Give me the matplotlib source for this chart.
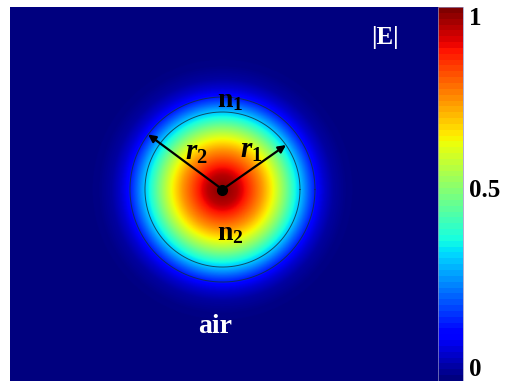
import numpy as np
import matplotlib
matplotlib.use("Agg")
import matplotlib.pyplot as plt
from matplotlib.cm import ScalarMappable
from matplotlib.colors import Normalize
from matplotlib.transforms import ScaledTranslation

plt.rcParams["font.family"] = ["Liberation Serif", "DejaVu Serif"]
plt.rcParams["mathtext.fontset"] = "custom"
plt.rcParams["mathtext.rm"] = "Liberation Serif:bold"
plt.rcParams["mathtext.it"] = "Liberation Serif:italic:bold"
plt.rcParams["mathtext.bf"] = "Liberation Serif:bold"

# Geometry (lengths normalised to the outer radius r2)
r1 = 0.838
r2 = 1.0
x_range = (-2.297, 2.330)
y_range = (-2.070, 1.973)

# Radial |E| profile of the guided mode (normalised field amplitude)
profile_r = [0.0, 0.16, 0.27, 0.43, 0.56, 0.68, 0.80, 0.84, 0.93, 1.0,
             1.05, 1.10, 1.20, 1.35, 1.60, 4.0]
profile_E = [1.0, 0.95, 0.87, 0.75, 0.63, 0.50, 0.36, 0.32, 0.22, 0.15,
             0.10, 0.07, 0.03, 0.005, 0.0, 0.0]

cbar_ticks = [0, 0.5, 1]
cbar_labels = ["0", "0.5", "1"]

# Field map on a regular grid
nx, ny = 700, 612
xs = np.linspace(x_range[0], x_range[1], nx)
ys = np.linspace(y_range[0], y_range[1], ny)
X, Y = np.meshgrid(xs, ys)
R = np.hypot(X, Y)
E = np.interp(R, profile_r, profile_E)

W, H = 505, 381
fig = plt.figure(figsize=(W / 100, H / 100), dpi=100)
ax = fig.add_axes([10 / W, 0, 428 / W, 374 / H])
cax = fig.add_axes([438 / W, 0, 25 / W, 374 / H])

cmap = plt.get_cmap("jet")
im = ax.imshow(E, cmap=cmap, vmin=0, vmax=1, origin="lower",
               extent=[x_range[0], x_range[1], y_range[0], y_range[1]],
               aspect="auto", interpolation="bilinear")
ax.set_xlim(*x_range)
ax.set_ylim(*y_range)
ax.set_axis_off()

# Core / cladding boundaries
t = np.linspace(0, 2 * np.pi, 400)
for rad in (r1, r2):
    ax.plot(rad * np.cos(t), rad * np.sin(t), color="#103040", lw=0.7, alpha=0.8)

# Radius arrows
a2 = np.deg2rad(143.5)
a1 = np.deg2rad(35.0)
for rad, ang in ((r2, a2), (r1, a1)):
    ax.annotate("", xy=(rad * np.cos(ang), rad * np.sin(ang)), xytext=(0, 0),
                arrowprops=dict(arrowstyle="-|>", color="black", lw=1.6,
                                mutation_scale=11, shrinkA=0, shrinkB=0))
ax.plot([0], [0], "o", color="black", ms=7)

ax.text(0.08, 0.892, r"$\mathrm{n}_{\mathrm{1}}$", fontsize=20,
        ha="center", va="baseline", color="black")
ax.text(0.08, -0.546, r"$\mathrm{n}_{\mathrm{2}}$", fontsize=20,
        ha="center", va="baseline", color="black")
ax.text(-0.286, 0.319, r"$r_{\mathit{2}}$", fontsize=21,
        ha="center", va="baseline", color="black")
ax.text(0.308, 0.341, r"$r_{\mathit{1}}$", fontsize=21,
        ha="center", va="baseline", color="black")
ax.text(1.757, 1.643, "|E|", fontsize=18, fontweight="bold",
        ha="center", va="center", color="white")
ax.text(-0.081, -1.551, "air", fontsize=20, fontweight="bold",
        ha="center", va="baseline", color="white")

# Colour bar with a 64-step jet scale
sm = ScalarMappable(norm=Normalize(0, 1), cmap=plt.get_cmap("jet", 64))
cb = fig.colorbar(sm, cax=cax, ticks=cbar_ticks)
cb.ax.set_yticklabels([])
cb.ax.tick_params(length=0)
cb.outline.set_linewidth(0.5)
cb.outline.set_edgecolor("#9090c0")
# tick labels drawn next to the bar, baselines nudged to sit inside the bar height
for val, lab, dy in zip(cbar_ticks, cbar_labels, (5, -3, -18)):
    off = ScaledTranslation(6 / 100, dy / 100, fig.dpi_scale_trans)
    cax.text(1.0, val, lab, transform=cax.transAxes + off, fontsize=18,
             fontweight="bold", ha="left", va="baseline", color="black")

fig.savefig("out.png", dpi=100)
